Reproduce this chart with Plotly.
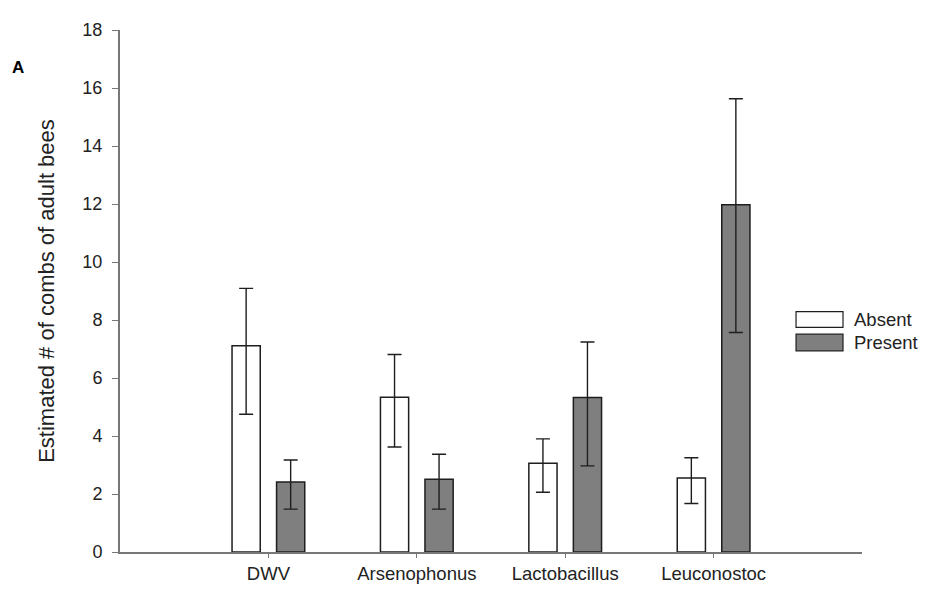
import plotly.graph_objects as go

categories = ["DWV", "Arsenophonus", "Lactobacillus", "Leuconostoc"]
absent_mean = [7.11, 5.34, 3.06, 2.55]
absent_upper = [9.09, 6.81, 3.90, 3.25]
absent_lower = [4.75, 3.62, 2.06, 1.67]
present_mean = [2.41, 2.51, 5.33, 11.97]
present_upper = [3.17, 3.37, 7.24, 15.63]
present_lower = [1.48, 1.48, 2.97, 7.57]
y_ticks = [0, 2, 4, 6, 8, 10, 12, 14, 16, 18]

FONT = "Liberation Sans, Arial, sans-serif"
EDGE = "#1e1e1e"
GREY = "#7f7f7f"

def err(mean, up, lo):
    return dict(type="data", symmetric=False,
                array=[u - m for u, m in zip(up, mean)],
                arrayminus=[m - l for m, l in zip(mean, lo)],
                color=EDGE, thickness=1.4, width=7)

fig = go.Figure()
fig.add_trace(go.Bar(x=categories, y=absent_mean, name="Absent",
                     width=0.19, offset=-0.245,
                     marker=dict(color="white", line=dict(color=EDGE, width=1.5)),
                     error_y=err(absent_mean, absent_upper, absent_lower),
                     showlegend=False))
fig.add_trace(go.Bar(x=categories, y=present_mean, name="Present",
                     width=0.19, offset=0.055,
                     marker=dict(color=GREY, line=dict(color=EDGE, width=1.5)),
                     error_y=err(present_mean, present_upper, present_lower),
                     showlegend=False))

# legend drawn manually (wide swatches like the reference)
legend_items = [("Absent", "white", 0.4605, 0.4305), ("Present", GREY, 0.4173, 0.3853)]
for label, col, y1, y0 in legend_items:
    fig.add_shape(type="rect", xref="paper", yref="paper",
                  x0=0.9111, x1=0.9744, y0=y0, y1=y1,
                  fillcolor=col, line=dict(color=EDGE, width=1.2))
    fig.add_annotation(x=0.986, y=(y0 + y1) / 2, xref="paper", yref="paper",
                       text=label, showarrow=False, xanchor="left", yanchor="middle",
                       font=dict(family=FONT, size=18.5, color="#222"))

fig.add_annotation(x=-0.148, y=0.9286, xref="paper", yref="paper", text="<b>A</b>",
                   showarrow=False, xanchor="left", yanchor="middle",
                   font=dict(family=FONT, size=17, color="black"))

# page body has an 8px margin; size the figure to the visible area
fig.update_layout(
    width=919, height=590,
    margin=dict(l=112, r=65, t=12, b=46),
    paper_bgcolor="white", plot_bgcolor="white",
    font=dict(family=FONT, color="#222"),
    barmode="overlay",
)
fig.update_xaxes(type="category", range=[-1, 4], showline=True, linecolor="#777",
                 linewidth=2, ticks="outside", ticklen=4, tickcolor="#777",
                 showgrid=False, zeroline=False,
                 tickfont=dict(family=FONT, size=18.5, color="#222"))
fig.update_yaxes(range=[0, 18], tickvals=y_ticks, showline=True, linecolor="#777",
                 linewidth=2, ticks="outside", ticklen=6, tickcolor="#777",
                 ticklabelstandoff=6,
                 showgrid=False, zeroline=False,
                 tickfont=dict(family=FONT, size=18, color="#222"),
                 title=dict(text="Estimated # of combs of adult bees", standoff=22,
                            font=dict(family=FONT, size=22, color="#222")))

fig.write_html("out.html")
